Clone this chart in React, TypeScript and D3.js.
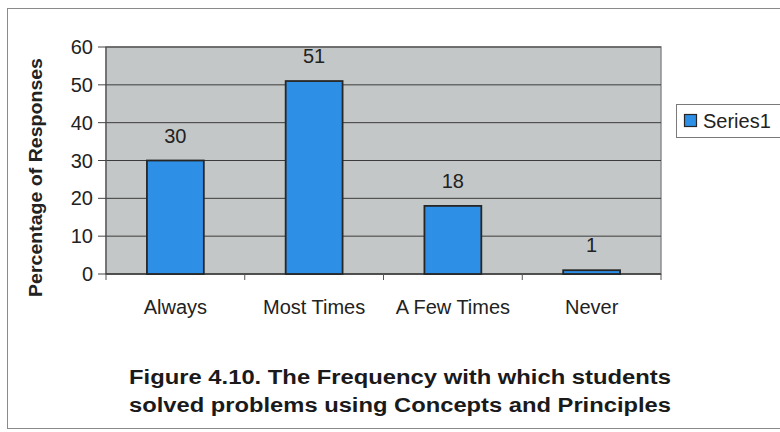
import React from "react";
import * as d3 from "d3";

const categories = ["Always", "Most Times", "A Few Times", "Never"];
const values = [30, 51, 18, 1];
const yTicks = [0, 10, 20, 30, 40, 50, 60];
const seriesName = "Series1";
const yTitle = "Percentage of Responses";
const captionLines = [
  "Figure 4.10. The Frequency with which students",
  "solved problems using Concepts and Principles",
];

const W = 780;
const H = 432;
const plot = { left: 106, top: 47, right: 661, bottom: 274 };
const FONT = "'Liberation Sans', Arial, sans-serif";

export default function App() {
  const x = d3
    .scaleBand<string>()
    .domain(categories)
    .range([plot.left, plot.right])
    .padding(0);
  const y = d3.scaleLinear().domain([0, 60]).range([plot.bottom, plot.top]);
  const bw = x.bandwidth() * 0.41;
  const boundaries = [...categories.map((c) => x(c) as number), plot.right];

  return (
    <svg
      width={W}
      height={H}
      style={{ position: "absolute", left: 0, top: 0, background: "#fff" }}
      fontFamily={FONT}
    >
      {/* outer frame */}
      <rect x={7.5} y={8.5} width={800} height={420} fill="#fff" stroke="#8a8a8a" strokeWidth={1} />

      {/* plot area */}
      <rect
        x={plot.left}
        y={plot.top}
        width={plot.right - plot.left}
        height={plot.bottom - plot.top}
        fill="#c4c7c7"
        stroke="#8e8e8e"
        strokeWidth={1.5}
      />
      {yTicks.slice(1).map((t) => (
        <line
          key={"g" + t}
          x1={plot.left}
          x2={plot.right}
          y1={y(t)}
          y2={y(t)}
          stroke="#3c3c3c"
          strokeWidth={1}
        />
      ))}

      {/* y axis */}
      <line x1={plot.left} x2={plot.left} y1={plot.top} y2={plot.bottom} stroke="#555" strokeWidth={1.2} />
      {yTicks.map((t) => (
        <g key={"yt" + t}>
          <line x1={plot.left - 8} x2={plot.left} y1={y(t)} y2={y(t)} stroke="#444" strokeWidth={1} />
          <text x={93} y={y(t) + 7} textAnchor="end" fontSize={20} fill="#222">
            {t}
          </text>
        </g>
      ))}

      {/* x axis */}
      <line x1={plot.left} x2={plot.right} y1={plot.bottom} y2={plot.bottom} stroke="#333" strokeWidth={1.5} />
      {boundaries.map((b, i) => (
        <line key={"xt" + i} x1={b} x2={b} y1={plot.bottom} y2={plot.bottom + 6} stroke="#555" strokeWidth={1} />
      ))}
      {categories.map((c) => (
        <text
          key={"xl" + c}
          x={(x(c) as number) + x.bandwidth() / 2}
          y={314}
          textAnchor="middle"
          fontSize={20}
          fill="#222"
        >
          {c}
        </text>
      ))}

      {/* bars */}
      {categories.map((c, i) => {
        const cx = (x(c) as number) + x.bandwidth() / 2;
        return (
          <g key={"b" + c}>
            <rect
              x={cx - bw / 2}
              y={y(values[i])}
              width={bw}
              height={plot.bottom - y(values[i])}
              fill="#2e8fe6"
              stroke="#262626"
              strokeWidth={1.8}
            />
            <text x={cx} y={y(values[i]) - 18} textAnchor="middle" fontSize={20} fill="#222">
              {values[i]}
            </text>
          </g>
        );
      })}

      {/* y title */}
      <text
        transform={`translate(42, ${(58 + 297) / 2}) rotate(-90)`}
        textAnchor="middle"
        fontSize={19}
        fontWeight="bold"
        fill="#222"
        textLength={239}
        lengthAdjust="spacingAndGlyphs"
      >
        {yTitle}
      </text>

      {/* legend */}
      <rect x={676.5} y={104.5} width={110} height={33} fill="#fff" stroke="#7a7a7a" strokeWidth={1} />
      <rect x={684.5} y={114.5} width={12} height={12} fill="#2e8fe6" stroke="#262626" strokeWidth={1.2} />
      <text x={703} y={128} fontSize={20} fill="#222">
        {seriesName}
      </text>

      {/* caption */}
      {captionLines.map((l, i) => (
        <text
          key={"c" + i}
          x={400}
          y={384 + i * 28}
          textAnchor="middle"
          fontSize={20}
          fontWeight="bold"
          fill="#1a1a1a"
          textLength={542}
          lengthAdjust="spacingAndGlyphs"
        >
          {l}
        </text>
      ))}
    </svg>
  );
}
